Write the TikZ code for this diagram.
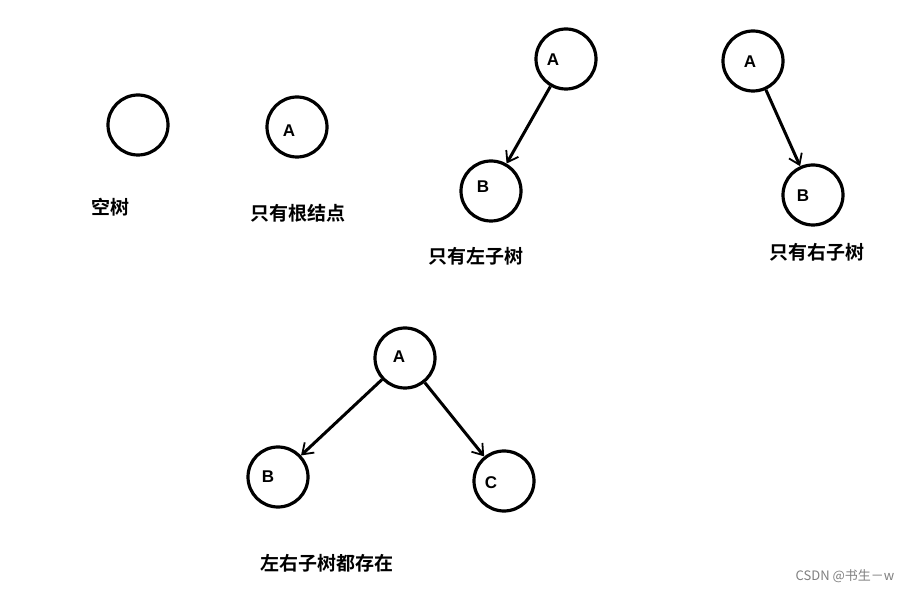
\documentclass[tikz,border=0pt]{standalone}
\usepackage{fontspec}
\setmainfont{Liberation Sans}
\newfontfamily\cjk{Noto Sans CJK SC}[BoldFont={Noto Sans CJK SC Bold}]
\usetikzlibrary{arrows.meta}
\begin{document}
\begin{tikzpicture}[x=1pt,y=-1pt,
  circ/.style={draw,circle,line width=3.2pt,minimum size=60pt,inner sep=0pt},
  lbl/.style={font=\cjk\bfseries\fontsize{19}{21}\selectfont},
  let/.style={font=\bfseries\fontsize{17}{19}\selectfont},
  edge/.style={line width=3pt,-{Straight Barb[length=10pt,width=14pt,line width=1.8pt]}}]
\useasboundingbox (0,0) rectangle (919,593);
\fill[white] (0,0) rectangle (919,593);
% empty tree
\node[circ] (e) at (138,125) {};
\node[lbl] (le) at (110,207) {空树};
% root only
\node[circ] (r) at (297,127) {};
\node[let] at (289,131) {A};
\node[lbl] (lr) at (298,213) {只有根结点};
% left only
\node[circ] (la) at (566,59) {};
\node[let] at (553,60) {A};
\node[circ] (lb) at (491,191) {};
\node[let] at (483,187) {B};
\draw[edge] (la) -- (lb);
\node[lbl] (ll) at (476,256) {只有左子树};
% right only
\node[circ] (ra) at (753,61) {};
\node[let] at (750,62) {A};
\node[circ] (rb) at (813,195) {};
\node[let] at (803,196) {B};
\draw[edge] (ra) -- (rb);
\node[lbl] (lrr) at (817,252) {只有右子树};
% both
\node[circ] (ba) at (405,358) {};
\node[let] at (399,357) {A};
\node[circ] (bb) at (278,477) {};
\node[let] at (268,477) {B};
\node[circ] (bc) at (504,481) {};
\node[let] at (491,483) {C};
\draw[edge] (ba) -- (bb);
\draw[edge] (ba) -- (bc);
\node[lbl] (lb2) at (327,563) {左右子树都存在};
\node[font=\cjk\fontsize{13}{15}\selectfont,text=gray] (wm) at (845,576) {CSDN @书生－w};
\end{tikzpicture}
\end{document}
